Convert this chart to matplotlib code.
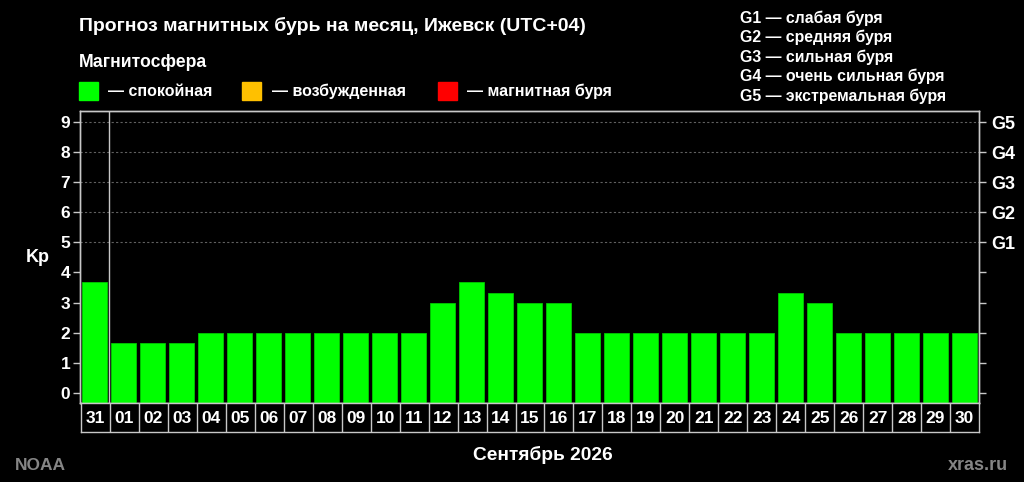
import matplotlib
matplotlib.use("Agg")
import matplotlib.pyplot as plt
from matplotlib.patches import Rectangle

plt.rcParams['font.family'] = ['Liberation Sans', 'DejaVu Sans']
plt.rcParams['font.weight'] = 'bold'

days = ["31", "01", "02", "03", "04", "05", "06", "07", "08", "09", "10",
        "11", "12", "13", "14", "15", "16", "17", "18", "19", "20", "21",
        "22", "23", "24", "25", "26", "27", "28", "29", "30"]
kp = [3.67, 1.67, 1.67, 1.67, 2, 2, 2, 2, 2, 2, 2,
      2, 3, 3.67, 3.33, 3, 3, 2, 2, 2, 2, 2,
      2, 2, 3.33, 3, 2, 2, 2, 2, 2]
g_labels = ["G1", "G2", "G3", "G4", "G5"]
g_desc = ["G1 — слабая буря", "G2 — средняя буря", "G3 — сильная буря",
          "G4 — очень сильная буря", "G5 — экстремальная буря"]
legend_labels = ["— спокойная", "— возбужденная", "— магнитная буря"]
legend_colors = ["#00ff00", "#ffc000", "#ff0000"]

W, H = 1024, 482
fig = plt.figure(figsize=(W / 100, H / 100), dpi=100, facecolor="black")

def fx(px):
    return px / W

def fy(py):
    return 1 - py / H

frame_c = "#c8c8c8"
ymin, ymax = -0.34, 9.37
tick_fs = 12.5

ax = fig.add_axes([fx(80), fy(403), fx(979) - fx(80), fy(111) - fy(403)])
ax.set_facecolor("black")
n = len(days)
xs = list(range(n))
ax.bar(xs, [v - ymin for v in kp], bottom=ymin, width=0.885,
       color="#00ff00", edgecolor="#00c800", linewidth=0.6, zorder=3)
ax.set_xlim(-0.5, n - 0.5)
ax.set_ylim(ymin, ymax)
for g in range(5, 10):
    ax.axhline(g, color="#606060", linestyle=(0, (2, 2)), linewidth=0.8, zorder=1)
ax.axvline(0.5, color=frame_c, linewidth=1.0, zorder=4)
ax.set_xticks([])
ax.set_yticks(range(10))
ax.set_yticklabels([str(i) for i in range(10)], color="white", fontsize=tick_fs, fontweight="bold")
ax.tick_params(axis="y", colors=frame_c, labelcolor="white", length=5, width=1, pad=2)
for s in ax.spines.values():
    s.set_color(frame_c)
    s.set_linewidth(1.0)

ax_r = ax.twinx()
ax_r.set_ylim(ymin, ymax)
ax_r.set_yticks(range(10))
ax_r.set_yticklabels([""] * 5 + g_labels, color="white", fontsize=13, fontweight="bold")
ax_r.tick_params(axis="y", colors=frame_c, labelcolor="white", length=5, width=1, pad=4)
for s in ax_r.spines.values():
    s.set_color(frame_c)
    s.set_linewidth(1.0)

ax.set_ylabel("Kp", color="white", fontsize=13, fontweight="bold", rotation=0,
              va="center", ha="center")
ax.yaxis.set_label_coords(-0.047, 0.5)

# day label boxes
axb = fig.add_axes([fx(81), fy(432), fx(979) - fx(81), fy(403) - fy(432)])
axb.set_facecolor("black")
axb.set_xlim(-0.5, n - 0.5)
axb.set_ylim(0, 1)
axb.set_xticks([])
axb.set_yticks([])
for s in axb.spines.values():
    s.set_color(frame_c)
    s.set_linewidth(1.0)
for i in range(n - 1):
    axb.axvline(i + 0.5, color=frame_c, linewidth=1.0)
for i, d in enumerate(days):
    axb.text(i, 0.48, d, color="white", fontsize=tick_fs, fontweight="bold",
             ha="center", va="center")

# texts
fig.text(fx(79), fy(31), "Прогноз магнитных бурь на месяц, Ижевск (UTC+04)",
         color="white", fontsize=14, fontweight="bold", ha="left", va="baseline")
fig.text(fx(79), fy(67), "Магнитосфера", color="white", fontsize=12.7,
         fontweight="bold", ha="left", va="baseline")
sq_x = [79, 242, 438]
tx_x = [108, 272, 467]
for c, l, sx, tx in zip(legend_colors, legend_labels, sq_x, tx_x):
    fig.patches.append(Rectangle((fx(sx), fy(100)), fx(19), fy(82) - fy(100),
                                 transform=fig.transFigure, color=c, figure=fig))
    fig.text(fx(tx), fy(96), l, color="white", fontsize=11.5, fontweight="bold",
             ha="left", va="baseline")

for k, t in enumerate(g_desc):
    fig.text(fx(740), fy(23 + 19.4 * k), t, color="white", fontsize=11.4,
             fontweight="bold", ha="left", va="baseline")

fig.text(fx(543), fy(460), "Сентябрь 2026", color="white", fontsize=13.8,
         fontweight="bold", ha="center", va="baseline")
fig.text(fx(15), fy(470), "NOAA", color="#858585", fontsize=12.5,
         fontweight="bold", ha="left", va="baseline")
fig.text(fx(1008), fy(470), "xras.ru", color="#858585", fontsize=13,
         fontweight="bold", ha="right", va="baseline")

fig.savefig("out.png", dpi=100, facecolor="black")
